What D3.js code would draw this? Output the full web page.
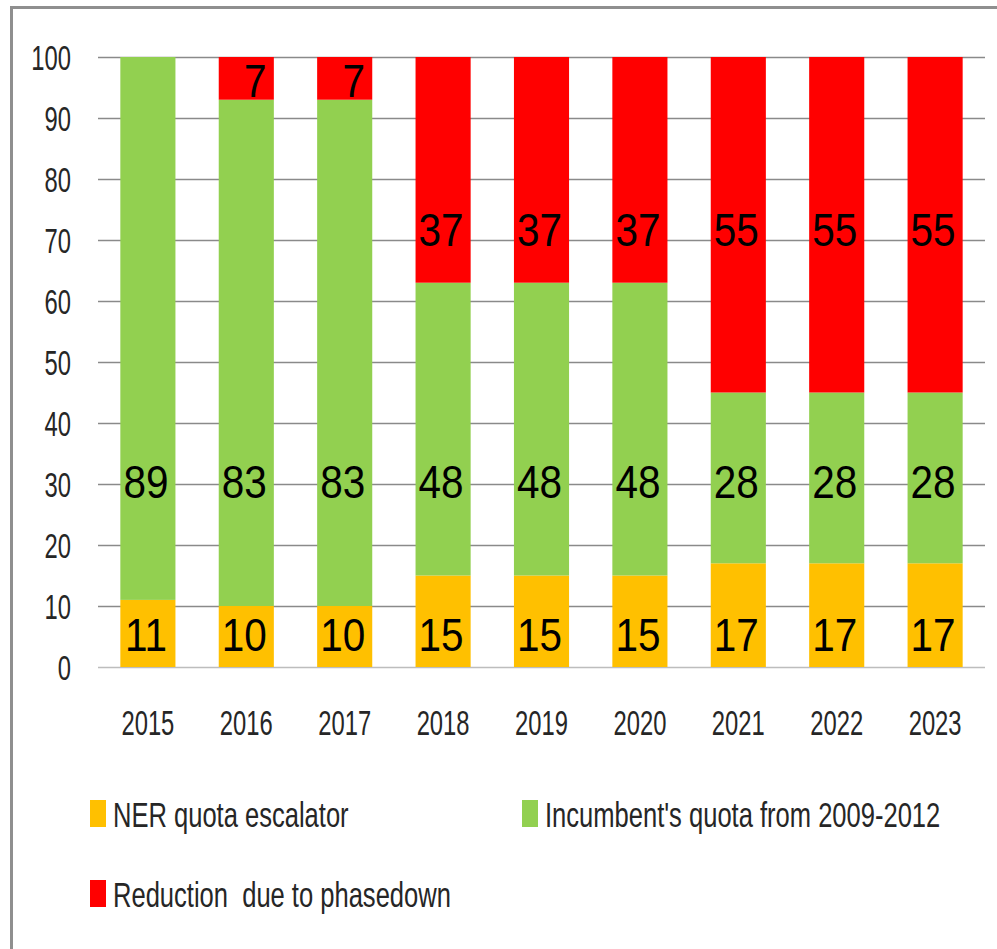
<!DOCTYPE html>
<html>
<head>
<meta charset="utf-8">
<script src="https://cdn.jsdelivr.net/npm/d3@7"></script>
<style>
  body { margin: 0; background: #fff; }
  svg { display: block; }
  text { font-family: "Liberation Sans", Arial, sans-serif; }
</style>
</head>
<body>
<svg id="chart" width="997" height="949"></svg>
<script>
// Data
const years = ["2015", "2016", "2017", "2018", "2019", "2020", "2021", "2022", "2023"];
const nerEscalator = [11, 10, 10, 15, 15, 15, 17, 17, 17];
const incumbentQuota = [89, 83, 83, 48, 48, 48, 28, 28, 28];
const phasedownCut = [0, 7, 7, 37, 37, 37, 55, 55, 55];
const yTicks = [0, 10, 20, 30, 40, 50, 60, 70, 80, 90, 100];
const seriesNames = ["NER quota escalator", "Incumbent's quota from 2009-2012", "Reduction  due to phasedown"];

const colors = ["#FFC000", "#92D050", "#FF0000"];
const keys = ["ner", "inc", "red"];

const rows = years.map((y, i) => ({
  year: y, ner: nerEscalator[i], inc: incumbentQuota[i], red: phasedownCut[i]
}));

const svg = d3.select("#chart");
const plotLeft = 98, plotRight = 985, plotTop = 57, plotBottom = 667;
const squeeze = 0.68; // narrow axis font
const legendSqueeze = 0.73;

// outer frame
svg.append("path")
  .attr("d", "M11.5,949 V7.5 H997")
  .attr("fill", "none")
  .attr("stroke", "#8f8f8f")
  .attr("stroke-width", 3);

const x = d3.scaleBand().domain(years).range([plotLeft, plotRight])
  .paddingInner(0.44).paddingOuter(0.227);
const y = d3.scaleLinear().domain([0, 100]).range([plotBottom, plotTop]);

// gridlines + y labels
const yAxis = svg.append("g")
  .attr("transform", `translate(${plotLeft},0)`)
  .call(d3.axisLeft(y).tickValues(yTicks).tickSize(-(plotRight - plotLeft)).tickPadding(0));
yAxis.select(".domain").remove();
yAxis.selectAll(".tick line")
  .attr("stroke", d => d === 0 ? "#bdbdbd" : "#8a8a8a")
  .attr("stroke-width", 1.6);
yAxis.selectAll(".tick text")
  .attr("x", -27 / squeeze)
  .attr("dy", "0.36em")
  .attr("transform", `scale(${squeeze},1)`)
  .attr("fill", "#262626")
  .style("font-size", "35px");

// stacked bars
const stack = d3.stack().keys(keys)(rows);
const layers = svg.append("g").selectAll("g")
  .data(stack)
  .join("g")
  .attr("fill", (d, i) => colors[i]);

layers.selectAll("rect")
  .data(d => d)
  .join("rect")
  .attr("x", d => x(d.data.year))
  .attr("width", x.bandwidth())
  .attr("y", d => y(d[1]))
  .attr("height", d => y(d[0]) - y(d[1]));

// value labels (placed as in the source chart)
const labelBase = { ner: 2.7, inc: 27.7, red: 69 };
stack.forEach((layer, li) => {
  const key = keys[li];
  svg.append("g").selectAll("text")
    .data(layer.filter(d => d.data[key] > 0))
    .join("text")
    .attr("transform", d => {
      let by = y(labelBase[key]);
      if (key === "red") by = Math.min(by, y(d[0]) - 3);
      const cx = x(d.data.year) + x.bandwidth() / 2 + (d.data[key] < 10 ? 9 : -2);
      return `translate(${cx},${by}) scale(0.88,1)`;
    })
    .attr("text-anchor", "middle")
    .attr("fill", "#000")
    .style("font-size", "46px")
    .text(d => d.data[key]);
});

// x axis labels
const xAxis = svg.append("g")
  .attr("transform", `translate(0,${plotBottom})`)
  .call(d3.axisBottom(x).tickSize(0).tickPadding(0));
xAxis.select(".domain").remove();
xAxis.selectAll(".tick text")
  .attr("y", 68)
  .attr("dy", 0)
  .attr("transform", `scale(${squeeze},1)`)
  .attr("fill", "#262626")
  .style("font-size", "35px");

// legend
const legendPos = [[90, 800], [522, 800], [90, 880]];
const legend = svg.append("g").selectAll("g")
  .data(seriesNames)
  .join("g")
  .attr("transform", (d, i) => `translate(${legendPos[i][0]},${legendPos[i][1]})`);
legend.append("rect")
  .attr("width", 16).attr("height", 27)
  .attr("fill", (d, i) => colors[i]);
legend.append("text")
  .attr("x", 23 / legendSqueeze)
  .attr("y", 27)
  .attr("transform", `scale(${legendSqueeze},1)`)
  .attr("fill", "#262626")
  .style("font-size", "35px")
  .style("white-space", "pre")
  .text(d => d);
</script>
</body>
</html>
